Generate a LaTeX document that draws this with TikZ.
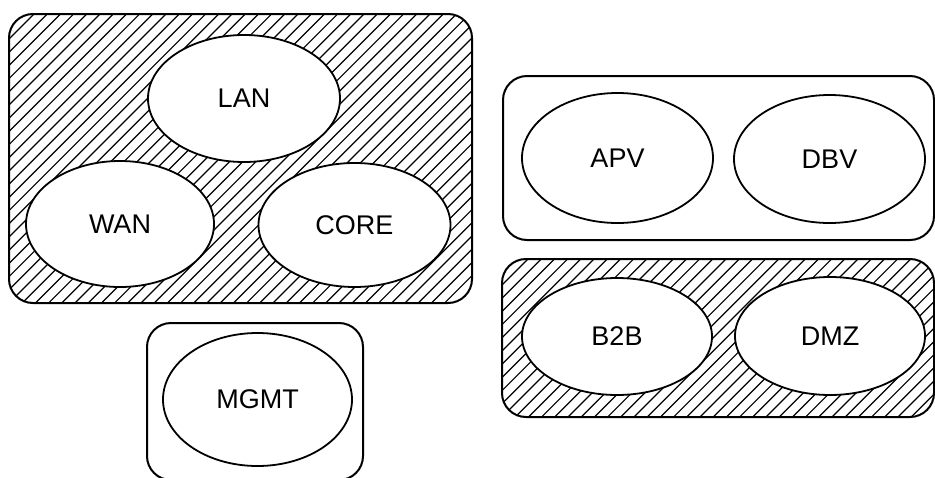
\documentclass[tikz,border=0pt]{standalone}
\usepackage{fontspec}
\setmainfont{Liberation Sans}
\usetikzlibrary{shapes.geometric}
\tikzset{
  zone/.style={draw, line width=2pt, rounded corners=24pt, inner sep=0pt,
    minimum width=#1},
  hatched/.style={path picture={
    \foreach \k in {-60,...,60}{
      \draw[line width=1.2pt]
        ([xshift=\k*13.2pt]path picture bounding box.south west) -- ++(500pt,500pt);
    }}},
  netarea/.style={ellipse, draw, fill=white, line width=1.8pt, inner sep=0pt,
    font=\fontsize{27}{27}\selectfont},
}
\begin{document}
\begin{tikzpicture}[x=1pt, y=-1pt]
  \useasboundingbox (0,0) rectangle (935,477);
  \begin{scope}
    \clip (0,0) rectangle (935,477);
    % grouping boxes
    \node[zone=463pt, minimum height=289pt, hatched] (core zone) at (240.5,158.5) {};
    \node[zone=431pt, minimum height=164pt] (virt zone) at (718.5,158) {};
    \node[zone=432pt, minimum height=158pt, hatched] (edge zone) at (718,338) {};
    \node[zone=216pt, minimum height=157pt] (mgmt zone) at (255,401.5) {};
    % network areas
    \node[netarea, minimum width=192pt, minimum height=127pt] (lan) at (244,98.5) {LAN};
    \node[netarea, minimum width=188pt, minimum height=126pt] (wan) at (120,224) {WAN};
    \node[netarea, minimum width=192pt, minimum height=124pt] (core) at (354.5,225) {CORE};
    \node[netarea, minimum width=191pt, minimum height=130pt] (apv) at (617.5,158) {APV};
    \node[netarea, minimum width=191pt, minimum height=128pt] (dbv) at (829.5,159) {DBV};
    \node[netarea, minimum width=190pt, minimum height=117pt] (b2b) at (617,336.5) {B2B};
    \node[netarea, minimum width=190pt, minimum height=118pt] (dmz) at (830,336) {DMZ};
    \node[netarea, minimum width=189pt, minimum height=133pt] (mgmt) at (257.5,399.5) {MGMT};
  \end{scope}
\end{tikzpicture}
\end{document}
